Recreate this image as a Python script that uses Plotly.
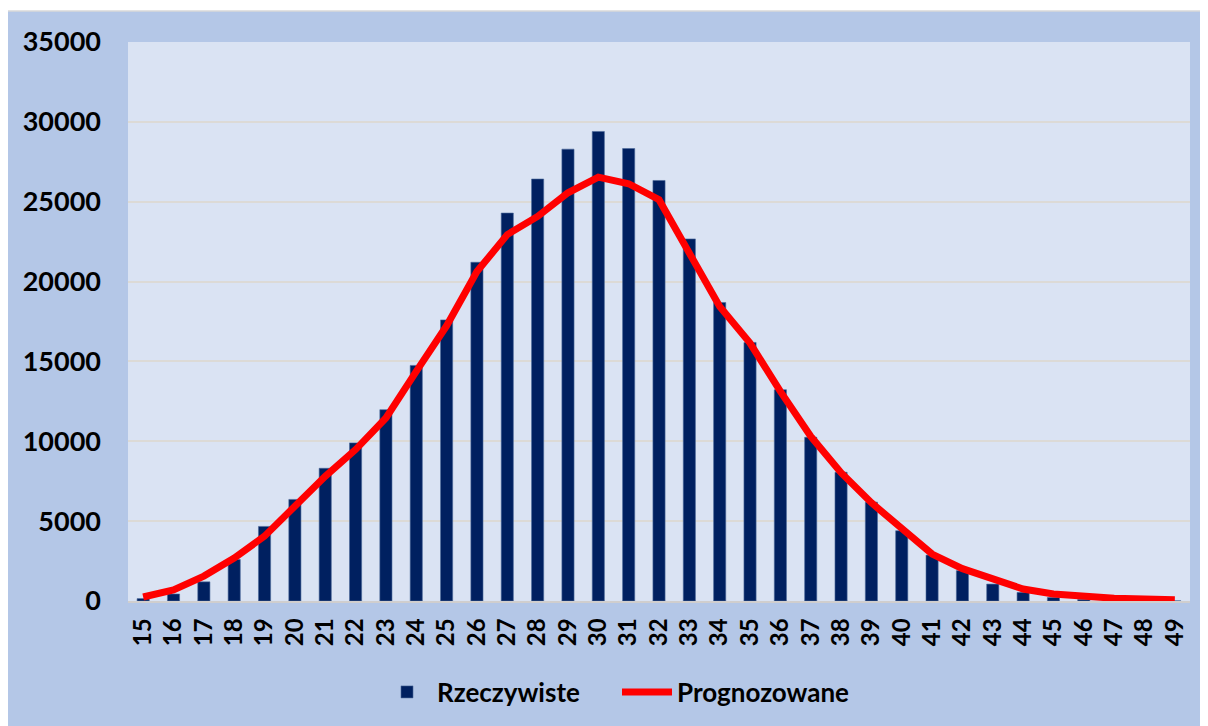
import plotly.graph_objects as go

categories = [str(c) for c in range(15, 50)]

rzeczywiste = [150, 440, 1200, 2600, 4670, 6360, 8310, 9900, 11980, 14750,
               17600, 21210, 24290, 26420, 28290, 29400, 28330, 26330, 22670, 18690,
               16190, 13230, 10250, 8060, 6190, 4400, 2875, 1900, 1060, 540,
               220, 100, 50, 30, 10]

prognozowane = [250, 690, 1560, 2690, 4060, 5940, 7810, 9480, 11460, 14375,
                17230, 20625, 22940, 24080, 25560, 26540, 26125, 25125, 21750, 18440,
                16150, 13125, 10310, 8030, 6150, 4590, 2940, 2025, 1400, 750,
                440, 270, 170, 120, 80]

y_ticks = [0, 5000, 10000, 15000, 20000, 25000, 30000, 35000]

FONT = "Lato"

fig = go.Figure()
fig.add_trace(go.Bar(
    x=categories, y=rzeczywiste, name="Rzeczywiste",
    marker=dict(color="#002060", line=dict(color="#4A6898", width=0.6)),
))
fig.add_trace(go.Scatter(
    x=categories, y=prognozowane, name="Prognozowane", mode="lines",
    line=dict(color="#FF0000", width=7),
))

W, H = 1200, 718
L, R, T, B = 120, 18, 34, 124
pw, ph = W - L - R, H - T - B

def fx(px):
    return (px - L) / pw

def fy(py):
    return (H - B - py) / ph

fig.update_layout(
    width=W, height=H,
    margin=dict(l=L, r=R, t=T, b=B),
    paper_bgcolor="#B4C7E7",
    plot_bgcolor="#DAE3F3",
    bargap=0.6,
    font=dict(family=FONT, size=22, color="#000000"),
    showlegend=True,
    legend=dict(orientation="h", x=fx(609), xanchor="center", y=fy(684), yanchor="middle",
                font=dict(family=FONT, size=26, color="#000000", weight="bold"),
                bgcolor="rgba(0,0,0,0)", traceorder="normal",
                itemwidth=50, entrywidth=175, entrywidthmode="pixels"),
    xaxis=dict(
        type="category", tickangle=-90,
        tickfont=dict(family=FONT, size=24, weight="bold", color="#000000"),
        showgrid=False, showline=True, linecolor="#D0CECE", linewidth=1.5,
        ticks="", ticklabelstandoff=6,
    ),
    yaxis=dict(
        range=[0, 35000], tickvals=y_ticks, ticktext=[str(v) for v in y_ticks],
        tickfont=dict(family=FONT, size=27, weight="bold", color="#000000"),
        showgrid=True, gridcolor="#DCDAD6", gridwidth=1.5, zeroline=False,
        showline=False, ticks="", ticklabelstandoff=26,
    ),
    shapes=[
        dict(type="rect", xref="paper", yref="paper", layer="below",
             x0=fx(0), x1=fx(W), y0=fy(3), y1=fy(0),
             fillcolor="#FFFFFF", line=dict(width=0)),
        dict(type="line", xref="paper", yref="paper", layer="below",
             x0=fx(0), x1=fx(W), y0=fy(3), y1=fy(3),
             line=dict(color="#D9D9D9", width=1.5)),
    ],
)

fig.write_html("out.html")
